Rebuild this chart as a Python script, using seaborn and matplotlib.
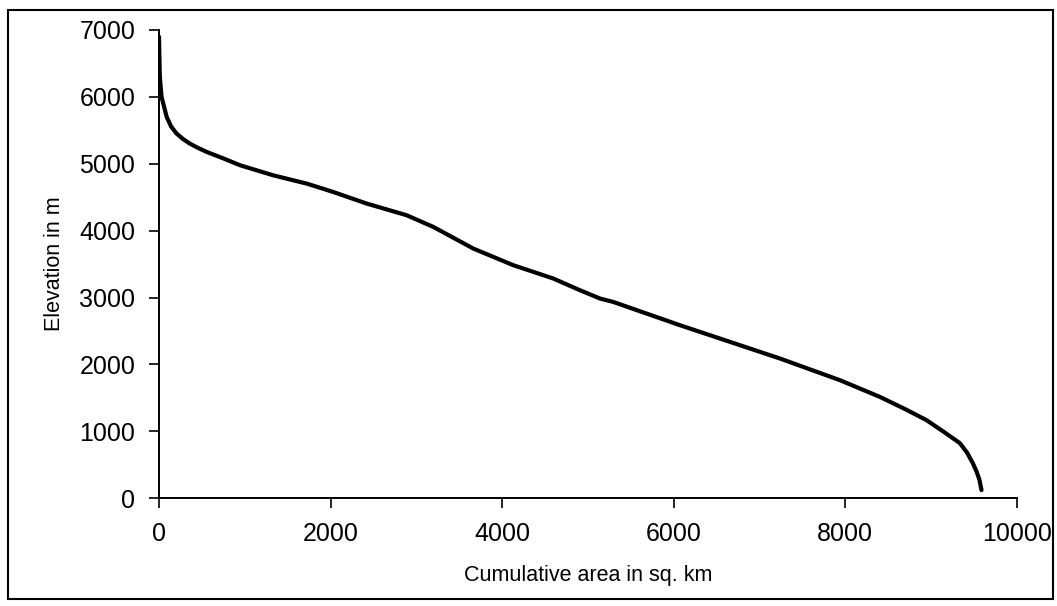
import matplotlib
matplotlib.use("Agg")
import matplotlib.pyplot as plt
import matplotlib.patches as mpatches
import numpy as np
import pandas as pd
import seaborn as sns

# Hypsometric curve: cumulative basin area (sq. km) above each elevation (m)
cumulative_area = [0, 5, 10, 30, 60, 90, 140, 206, 280, 361, 450, 556, 750, 944,
                   1329, 1643, 1721, 2031, 2420, 2887, 3197, 3664, 4130, 4596,
                   4907, 5140, 5295, 6072, 6772, 7238, 7937, 8403, 8700, 8947,
                   9150, 9336, 9420, 9487, 9530, 9565, 9588]
elevation = [6900, 6600, 6300, 6000, 5850, 5700, 5560, 5450, 5370, 5300, 5240,
             5177, 5080, 4978, 4828, 4728, 4704, 4578, 4405, 4230, 4056, 3732,
             3483, 3284, 3109, 2985, 2934, 2586, 2287, 2088, 1764, 1514, 1330,
             1166, 990, 822, 680, 523, 400, 270, 120]

x_ticks = [0, 2000, 4000, 6000, 8000, 10000]
y_ticks = [0, 1000, 2000, 3000, 4000, 5000, 6000, 7000]

df = pd.DataFrame({"area": cumulative_area, "elev": elevation})

sns.set_style("ticks")
plt.rcParams["font.family"] = ["Liberation Sans", "DejaVu Sans"]

fig = plt.figure(figsize=(10.57, 6.06), dpi=100)
ax = fig.add_axes([0.1504, 0.178, 0.8116, 0.7725])

sns.lineplot(data=df, x="area", y="elev", ax=ax, color="black", linewidth=3,
             sort=False, estimator=None)

ax.set_xlim(0, 10000)
ax.set_ylim(0, 7000)
ax.set_xticks(x_ticks)
ax.set_yticks(y_ticks)
ax.set_xticklabels([str(v) for v in x_ticks], fontsize=18, color="black")
ax.set_yticklabels([str(v) for v in y_ticks], fontsize=18, color="black")
ax.tick_params(axis="both", direction="out", length=7, width=1.2, color="black")
ax.tick_params(axis="y", pad=10)
ax.tick_params(axis="x", pad=10)
for side in ("top", "right"):
    ax.spines[side].set_visible(False)
for side in ("left", "bottom"):
    ax.spines[side].set_linewidth(1.4)
    ax.spines[side].set_color("black")

ax.set_xlabel("Cumulative area in sq. km", fontsize=15.5, color="black", labelpad=14)
ax.set_ylabel("Elevation in m", fontsize=15.5, color="black", labelpad=10)

# Outer frame around the whole chart
frame = mpatches.Rectangle((0.008, 0.012), 0.988, 0.972, transform=fig.transFigure,
                           fill=False, edgecolor="black", linewidth=1.5)
fig.patches.append(frame)

fig.savefig("out.png", dpi=100, facecolor="white")
